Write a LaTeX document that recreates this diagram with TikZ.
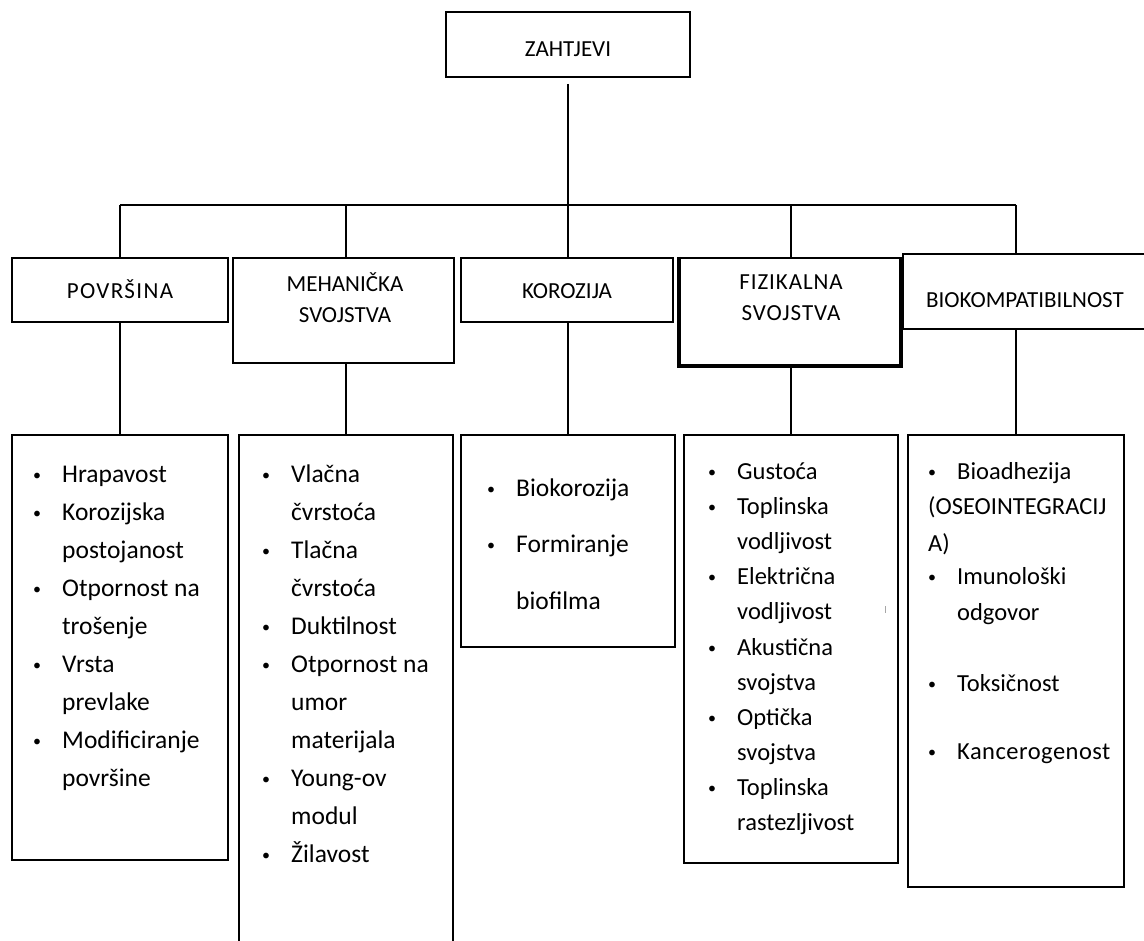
\documentclass[tikz,border=0pt]{standalone}
\usepackage{fontspec}
\setmainfont{Carlito}
\newcommand\itm{\llap{\makebox[50pt][c]{\raisebox{1.5pt}{\fontsize{16}{16}\selectfont\textbullet}}}}

\begin{document}
\begin{tikzpicture}[x=1pt,y=-1pt,
	box/.style={draw,line width=2pt,inner sep=0pt},
	head/.style={font=\fontsize{23}{31}\selectfont,align=center,inner sep=0pt},
	item/.style={anchor=base west,inner sep=0pt,font=\fontsize{25.5}{30}\selectfont},
	itemsm/.style={item,font=\fontsize{24.5}{28}\selectfont},
	link/.style={line width=1.6pt}]
\useasboundingbox (0,0) rectangle (1144,941);

% boxes
\node[box,minimum width=244pt,minimum height=65pt] (zahtjevi) at (568,44.5) {};
\node[box,minimum width=216pt,minimum height=64pt] (pov) at (120,290) {};
\node[box,minimum width=221pt,minimum height=105pt] (meh) at (343.5,310.5) {};
\node[box,minimum width=212pt,minimum height=64pt] (kor) at (567,290) {};
\node[box,minimum width=220pt,minimum height=107pt] (fiz) at (790,311.5) {};
\node[box,minimum width=247pt,minimum height=75pt] (bio) at (1026.5,291.5) {};
\draw[line width=4pt] (fiz.north west) -- (fiz.south west) -- (fiz.south east) -- (fiz.north east);

\node[box,minimum width=216pt,minimum height=425pt] (pov-list) at (120,647) {};
\node[box,minimum width=214pt,minimum height=525pt] (meh-list) at (346,697) {};
\node[box,minimum width=214pt,minimum height=212pt] (kor-list) at (568,540.5) {};
\node[box,minimum width=214pt,minimum height=428pt] (fiz-list) at (791,648.5) {};
\node[box,minimum width=216pt,minimum height=452pt] (bio-list) at (1016,660.5) {};

% headings
\node[head] (zahtjevi-t) at (568,49) {ZAHTJEVI};
\node[head] (pov-t) at (120,289) {\addfontfeature{LetterSpace=6}POVRŠINA};
\node[head] (meh-t) at (345,297.5) {MEHANIČKA\\SVOJSTVA};
\node[head] (kor-t) at (567,291) {KOROZIJA};
\node[head] (fiz-t) at (791,297.5) {\addfontfeature{LetterSpace=4}FIZIKALNA\\\addfontfeature{LetterSpace=4}SVOJSTVA};
\node[head] (bio-t) at (1025,300) {BIOKOMPATIBILNOST};

% connectors
\coordinate (bus) at (568,205);
\draw[link,shorten <=6pt] (zahtjevi.south) -- (bus);
\draw[link] (bus -| pov-list.north) -- (bus -| bio-list.north);
\foreach \a in {pov,meh,kor,fiz,bio} {
	\draw[link] (bus -| \a-list.north) -- (\a.north -| \a-list.north);
	\draw[link] (\a.south -| \a-list.north) -- (\a-list.north);
};

% lists
\foreach \y/\t [count=\i] in {474/\itm Hrapavost, 512/\itm Korozijska, 550/postojanost,
	588/\itm Otpornost na, 626/trošenje, 664/\itm Vrsta, 702/prevlake,
	740/\itm Modificiranje, 778/površine}
	\node[item] (pov-l\i) at (62,\y+8) {\t};
\foreach \y/\t [count=\i] in {474/\itm Vlačna, 512/čvrstoća, 550/\itm Tlačna, 588/čvrstoća,
	626/\itm Duktilnost, 664/\itm Otpornost na, 702/umor, 740/materijala,
	778/\itm Young-ov, 816/modul, 854/\itm Žilavost}
	\node[item] (meh-l\i) at (291,\y+8) {\t};
\foreach \y/\t [count=\i] in {488/\itm Biokorozija, 544/\itm Formiranje, 601/biofilma}
	\node[item] (kor-l\i) at (516,\y+8) {\t};
\foreach \y/\t [count=\i] in {471/\itm Gustoća, 506/\itm Toplinska, 541/vodljivost,
	576/\itm Električna, 611/vodljivost, 647/\itm Akustična, 682/svojstva,
	717/\itm Optička, 752/svojstva, 787/\itm Toplinska, 822/rastezljivost}
	\node[itemsm] (fiz-l\i) at (737,\y+8) {\t};
\foreach \x/\y/\t [count=\i] in {957/471/\itm Bioadhezija, 928/506/{(OSEOINTEGRACIJ}, 928/543/{A)},
	957/576/\itm Imunološki, 957/612/odgovor, 957/683/\itm Toksičnost,
	957/751/{\itm\addfontfeature{LetterSpace=2}Kancerogenost}}
	\node[itemsm] (bio-l\i) at (\x,\y+8) {\t};

\draw[gray!70,line width=1pt] (885,606) -- (885,613);
\end{tikzpicture}
\end{document}
